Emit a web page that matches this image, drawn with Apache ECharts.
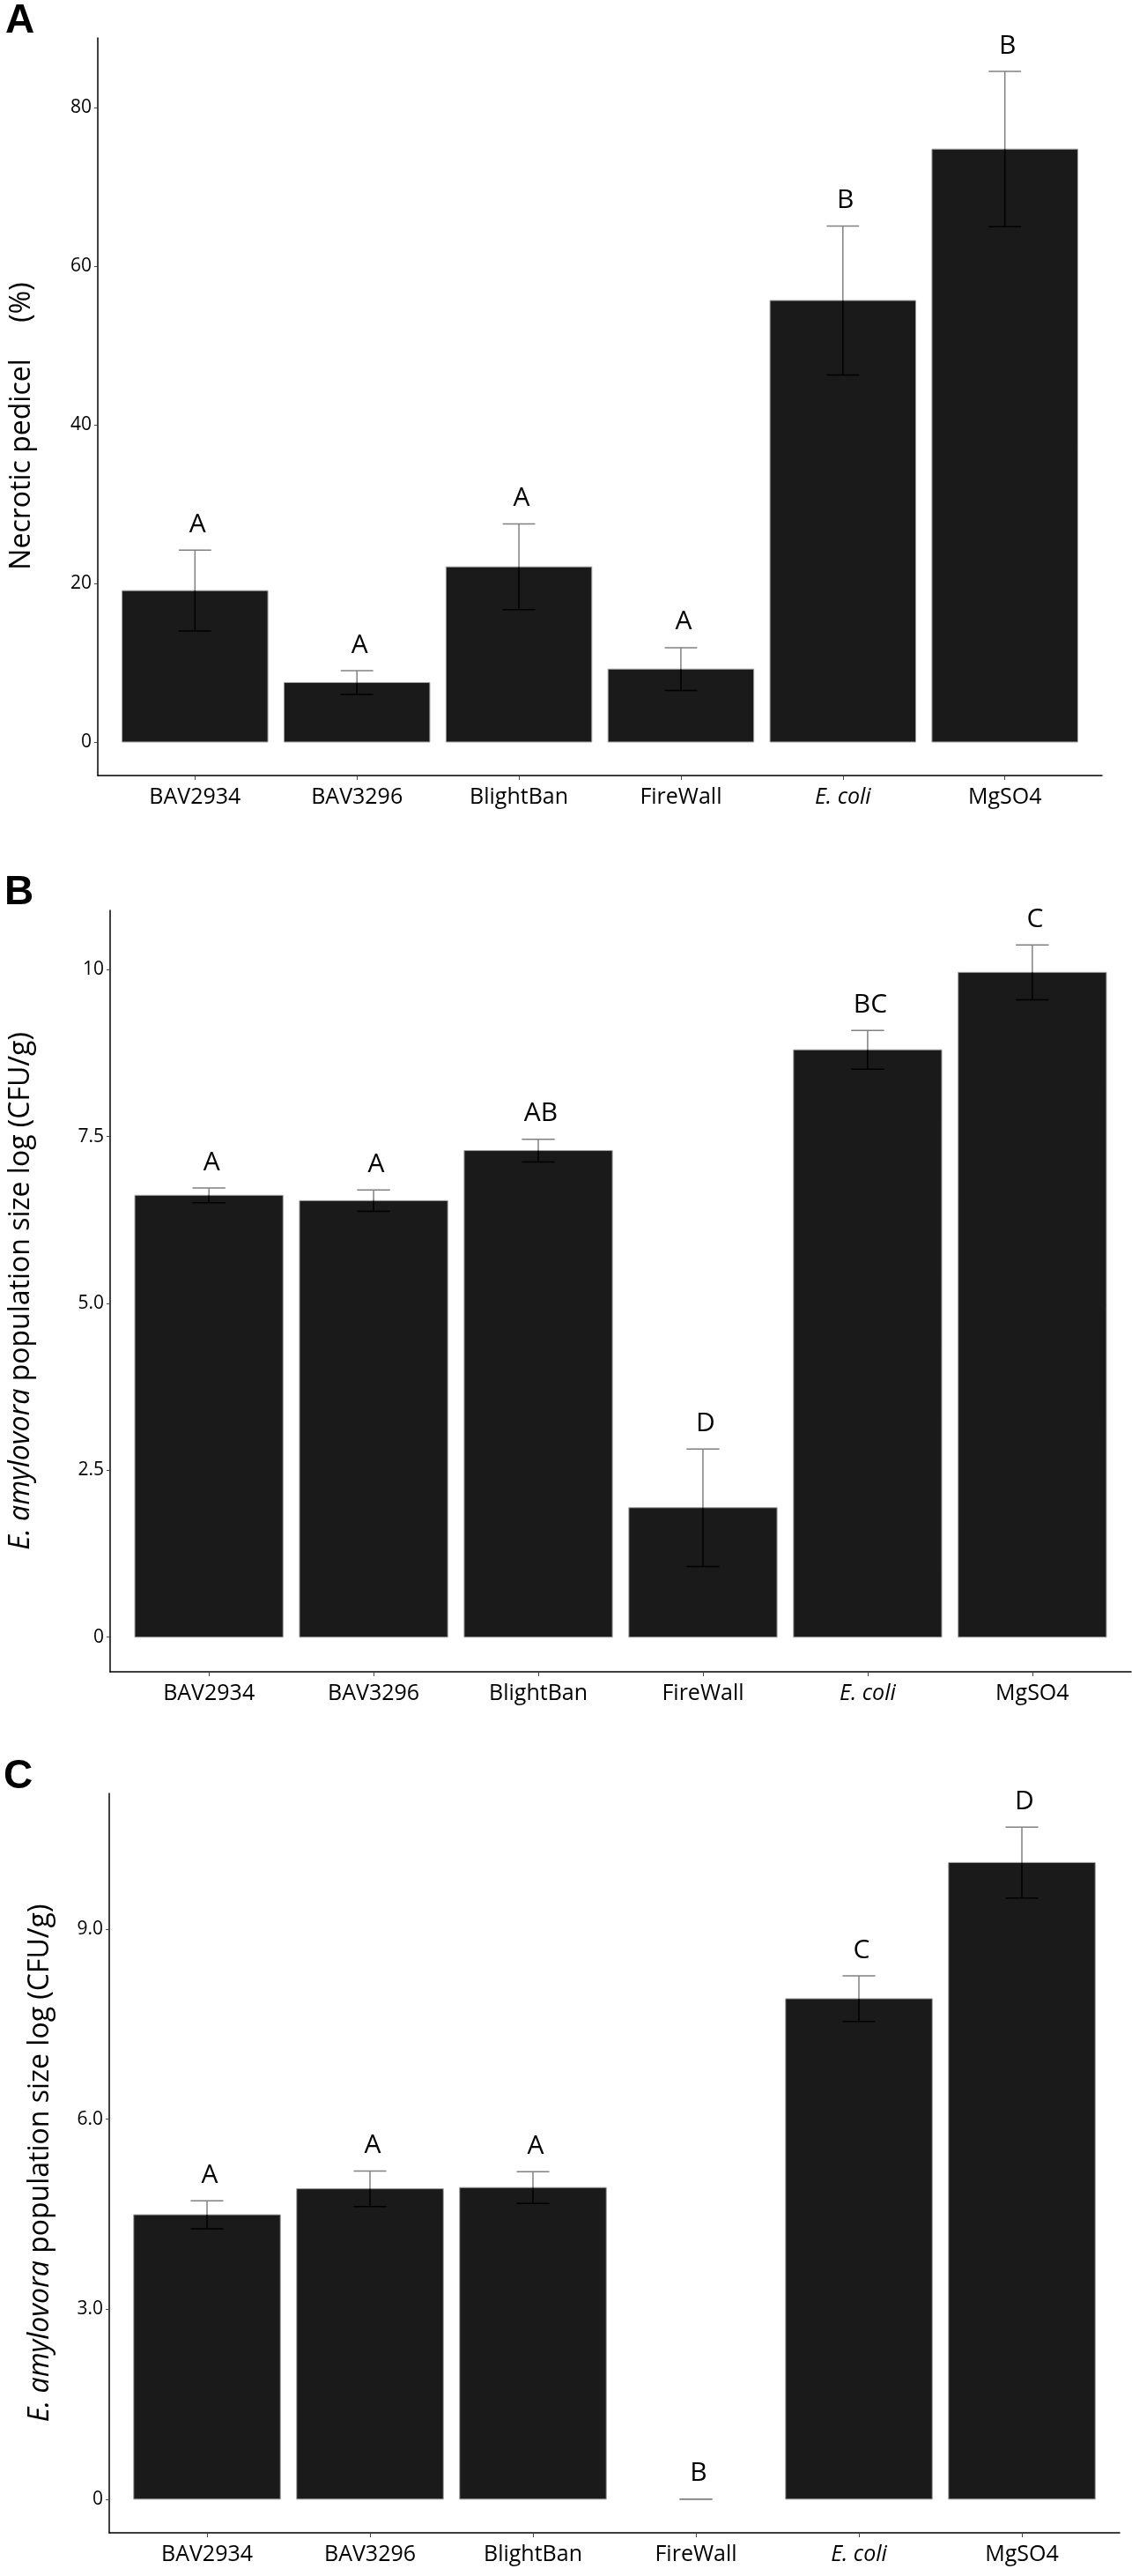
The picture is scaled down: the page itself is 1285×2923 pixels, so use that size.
<!DOCTYPE html>
<html>
<head>
<meta charset="utf-8">
<script src="https://cdn.jsdelivr.net/npm/echarts@6/dist/echarts.min.js"></script>
<style>
  html, body { margin: 0; padding: 0; background: #fff; }
  #chart { width: 1285px; height: 2923px; }
</style>
</head>
<body>
<div id="chart"></div>
<script>
// ---- data ----
const categories = ['BAV2934', 'BAV3296', 'BlightBan', 'FireWall', 'E. coli', 'MgSO4'];

const necroticMean = [19.1, 7.5, 22.1, 9.2, 55.7, 74.8];
const necroticSE   = [5.1, 1.5, 5.4, 2.7, 9.4, 9.8];
const necroticLetters = ['A', 'A', 'A', 'A', 'B', 'B'];
const necroticTicks = [0, 20, 40, 60, 80];

const popBMean = [6.62, 6.54, 7.29, 1.94, 8.80, 9.96];
const popBSE   = [0.11, 0.16, 0.17, 0.88, 0.29, 0.41];
const popBLetters = ['A', 'A', 'AB', 'D', 'BC', 'C'];
const popBTicks = [0, 2.5, 5.0, 7.5, 10];
const popBTickLabels = ['0', '2.5', '5.0', '7.5', '10'];

const popCMean = [4.49, 4.90, 4.92, 0, 7.90, 10.05];
const popCSE   = [0.22, 0.28, 0.25, 0, 0.36, 0.56];
const popCLetters = ['A', 'A', 'A', 'B', 'C', 'D'];
const popCTicks = [0, 3.0, 6.0, 9.0];
const popCTickLabels = ['0', '3.0', '6.0', '9.0'];

// ---- helpers ----
const FONT = '"Open Sans", "Noto Sans", sans-serif';
const catPositions = categories.map((c, i) => i + 1);

function rangeWithExpand(mean, se) {
  let hi = 0;
  mean.forEach((m, i) => { hi = Math.max(hi, m + se[i]); });
  const pad = hi * 0.05;
  return [-pad, hi + pad];
}

function buildData(mean, se, letters) {
  return mean.map((m, i) => [i + 1, m, se[i], letters[i]]);
}

function renderItem(params, api) {
  const x = api.value(0);
  const m = api.value(1);
  const s = api.value(2);
  const letter = api.value(3);
  const barHalf = 0.45, capHalf = 0.1;
  const pTL = api.coord([x - barHalf, m]);
  const pBR = api.coord([x + barHalf, 0]);
  const top = api.coord([x, m + s]);
  const mid = api.coord([x, m]);
  const bot = api.coord([x, m - s]);
  const capL = api.coord([x - capHalf, m])[0];
  const capR = api.coord([x + capHalf, m])[0];
  const grey = '#808080';
  const children = [];
  if (m > 0) {
    children.push({
      type: 'rect',
      shape: { x: pTL[0], y: pTL[1], width: pBR[0] - pTL[0], height: pBR[1] - pTL[1] },
      style: { fill: '#1a1a1a', stroke: '#a0a0a0', lineWidth: 1 }
    });
  }
  // upper whisker (grey, outside the bar)
  children.push({ type: 'line', shape: { x1: top[0], y1: top[1], x2: mid[0], y2: mid[1] },
    style: { stroke: grey, lineWidth: 1.5 } });
  children.push({ type: 'line', shape: { x1: capL, y1: top[1], x2: capR, y2: top[1] },
    style: { stroke: grey, lineWidth: 1.5 } });
  // lower whisker (appears black over the bar)
  const lowColor = (m > 0 && s > 0) ? '#000' : grey;
  children.push({ type: 'line', shape: { x1: mid[0], y1: mid[1], x2: bot[0], y2: bot[1] },
    style: { stroke: lowColor, lineWidth: 1.5 } });
  children.push({ type: 'line', shape: { x1: capL, y1: bot[1], x2: capR, y2: bot[1] },
    style: { stroke: lowColor, lineWidth: 1.5 } });
  // significance letter
  children.push({
    type: 'text',
    style: { text: letter, x: top[0] + 3, y: top[1] - 14, fill: '#000',
      font: '30px ' + FONT, align: 'center', verticalAlign: 'bottom' }
  });
  return { type: 'group', children };
}

function xAxisDef(gridIndex) {
  return {
    type: 'value', gridIndex, min: 0.4, max: 6.6,
    splitLine: { show: false },
    axisLine: { show: true, onZero: false, lineStyle: { color: '#000', width: 1.5 } },
    axisTick: { show: true, customValues: catPositions, length: 5, lineStyle: { color: '#444', width: 1 } },
    axisLabel: {
      customValues: catPositions, margin: 12, color: '#000', fontSize: 25, fontFamily: FONT,
      formatter: v => {
        const name = categories[Math.round(v) - 1];
        return name === 'E. coli' ? '{i|' + name + '}' : name;
      },
      rich: { i: { fontStyle: 'italic', fontSize: 25, fontFamily: FONT, color: '#000' } }
    }
  };
}

function yAxisDef(gridIndex, range, ticks, tickLabels, name, nameGap, namePadding) {
  return {
    type: 'value', gridIndex, min: range[0], max: range[1],
    splitLine: { show: false },
    axisLine: { show: true, onZero: false, lineStyle: { color: '#000', width: 1.5 } },
    axisTick: { show: true, customValues: ticks, length: 4, lineStyle: { color: '#444', width: 1 } },
    axisLabel: {
      customValues: ticks, margin: 7, color: '#000', fontSize: 21, fontFamily: FONT,
      formatter: v => {
        const idx = ticks.findIndex(t => Math.abs(t - v) < 1e-6);
        return tickLabels ? tickLabels[idx] : String(v);
      }
    },
    name, nameLocation: 'middle', nameGap, nameRotate: 90, nameMoveOverlap: false,
    nameTextStyle: {
      color: '#000', fontSize: 32, fontFamily: FONT, padding: namePadding,
      rich: { i: { fontStyle: 'italic', fontSize: 32, fontFamily: FONT, color: '#000' } }
    }
  };
}

const chart = echarts.init(document.getElementById('chart'), null, { renderer: 'canvas' });

const option = {
  backgroundColor: '#fff',
  animation: false,
  grid: [
    { left: 111, top: 43, width: 1140, height: 837, outerBoundsMode: 'none', containLabel: false },
    { left: 125, top: 1033, width: 1159, height: 864, outerBoundsMode: 'none', containLabel: false },
    { left: 124, top: 2035, width: 1147, height: 839, outerBoundsMode: 'none', containLabel: false }
  ],
  xAxis: [xAxisDef(0), xAxisDef(1), xAxisDef(2)],
  yAxis: [
    yAxisDef(0, rangeWithExpand(necroticMean, necroticSE), necroticTicks, null,
      'Necrotic pedicel     (%)', 70, [0, 44, 0, 0]),
    yAxisDef(1, rangeWithExpand(popBMean, popBSE), popBTicks, popBTickLabels,
      '{i|E. amylovora} population size log (CFU/g)', 85, 0),
    yAxisDef(2, rangeWithExpand(popCMean, popCSE), popCTicks, popCTickLabels,
      '{i|E. amylovora} population size log (CFU/g)', 62, 0)
  ],
  series: [
    { type: 'custom', xAxisIndex: 0, yAxisIndex: 0, renderItem, clip: false,
      encode: { x: 0, y: 1 }, data: buildData(necroticMean, necroticSE, necroticLetters) },
    { type: 'custom', xAxisIndex: 1, yAxisIndex: 1, renderItem, clip: false,
      encode: { x: 0, y: 1 }, data: buildData(popBMean, popBSE, popBLetters) },
    { type: 'custom', xAxisIndex: 2, yAxisIndex: 2, renderItem, clip: false,
      encode: { x: 0, y: 1 }, data: buildData(popCMean, popCSE, popCLetters) }
  ],
  graphic: [
    { type: 'text', left: 6, top: 1, style: { text: 'A', font: 'bold 46px "Liberation Sans", Arial, sans-serif', fill: '#000' } },
    { type: 'text', left: 5, top: 990, style: { text: 'B', font: 'bold 46px "Liberation Sans", Arial, sans-serif', fill: '#000' } },
    { type: 'text', left: 4, top: 1993, style: { text: 'C', font: 'bold 46px "Liberation Sans", Arial, sans-serif', fill: '#000' } }
  ]
};

chart.setOption(option);
</script>
</body>
</html>
